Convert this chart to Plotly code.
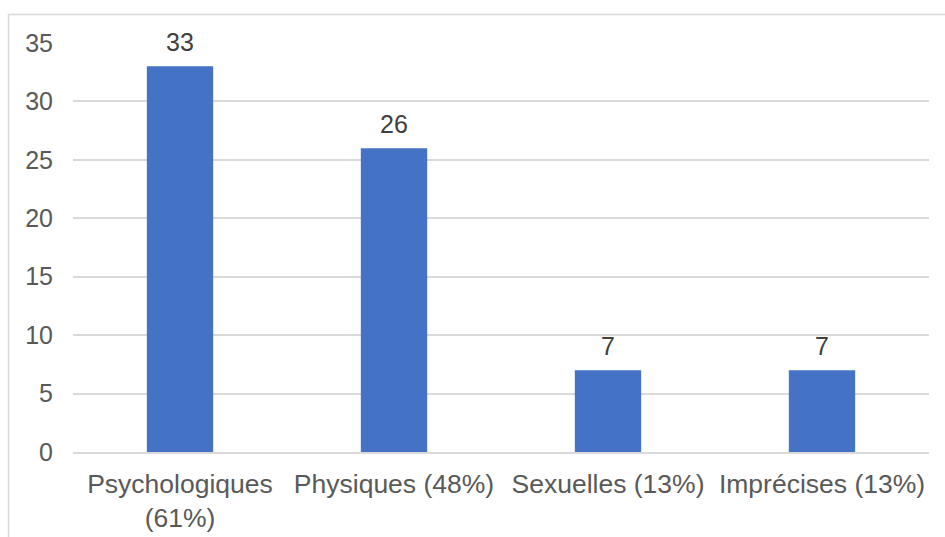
import plotly.graph_objects as go

categories = ["Psychologiques<br>(61%)", "Physiques (48%)", "Sexuelles (13%)", "Imprécises (13%)"]
values = [33, 26, 7, 7]
y_ticks = [0, 5, 10, 15, 20, 25, 30, 35]

W, H = 945, 537
L, R, T, B = 73, 16, 43, 85
pw = W - L - R
ph = H - T - B

def px_x(p):
    return (p - L) / pw

def px_y(p):
    return (H - B - p) / ph

fig = go.Figure(go.Bar(
    x=categories, y=values,
    marker=dict(color="#4472C4", line=dict(width=0)),
    width=0.31,
    hoverinfo="skip",
))

for c, v in zip(categories, values):
    fig.add_annotation(x=c, y=v, text=str(v), showarrow=False, yanchor="bottom",
                       yshift=8, font=dict(family="Liberation Sans, Arial", size=25, color="#404040"))

fig.update_layout(
    width=W, height=H,
    margin=dict(l=L, r=R, t=T, b=B),
    paper_bgcolor="white", plot_bgcolor="white",
    font=dict(family="Liberation Sans, Arial", size=25, color="#595959"),
    showlegend=False,
    xaxis=dict(showgrid=False, showline=True, linecolor="#D9D9D9", linewidth=1.5,
               automargin=False,
               ticks="outside", ticklen=7, tickcolor="rgba(0,0,0,0)",
               tickfont=dict(size=26.5, color="#595959")),
    yaxis=dict(range=[0, 35], tickvals=y_ticks, showgrid=True, gridcolor="#D9D9D9",
               gridwidth=1.5, zeroline=False, showline=False, automargin=False,
               ticks="outside", ticklen=14, tickcolor="rgba(0,0,0,0)",
               tickfont=dict(size=25, color="#595959")),
)

# chart-area border
fig.add_shape(type="rect", xref="paper", yref="paper",
              x0=px_x(8.5), x1=px_x(960), y0=px_y(560), y1=px_y(14.5),
              line=dict(color="#D9D9D9", width=1.5), fillcolor="rgba(0,0,0,0)", layer="below")

fig.write_html("out.html", config={"displayModeBar": False},
               post_script="document.body.style.margin='0';")
